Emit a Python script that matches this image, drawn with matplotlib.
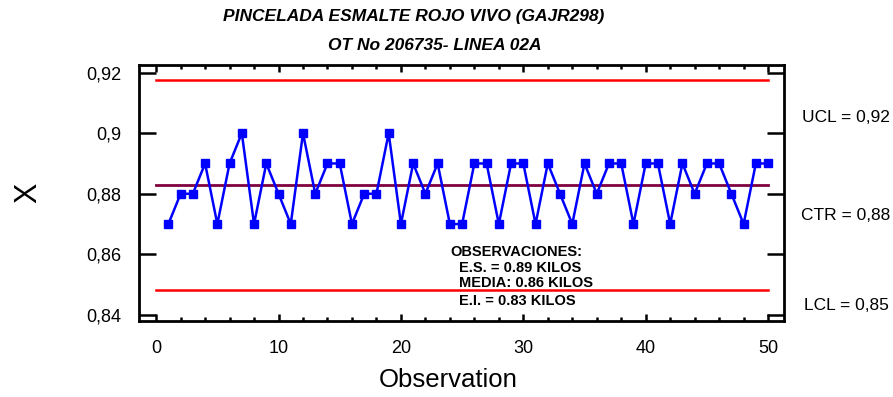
import matplotlib
matplotlib.use("Agg")
import matplotlib.pyplot as plt
from matplotlib.ticker import MultipleLocator, FixedLocator

plt.rcParams['font.family'] = ['Liberation Sans', 'DejaVu Sans']

# Data
observation = list(range(1, 51))
values = [0.87, 0.88, 0.88, 0.89, 0.87, 0.89, 0.90, 0.87, 0.89, 0.88,
          0.87, 0.90, 0.88, 0.89, 0.89, 0.87, 0.88, 0.88, 0.90, 0.87,
          0.89, 0.88, 0.89, 0.87, 0.87, 0.89, 0.89, 0.87, 0.89, 0.89,
          0.87, 0.89, 0.88, 0.87, 0.89, 0.88, 0.89, 0.89, 0.87, 0.89,
          0.89, 0.87, 0.89, 0.88, 0.89, 0.89, 0.88, 0.87, 0.89, 0.89]
ucl = 0.9174
ctr = 0.8828
lcl = 0.8482
limit_labels = ["UCL = 0,92", "CTR = 0,88", "LCL = 0,85"]
yticks = [0.84, 0.86, 0.88, 0.90, 0.92]
ytick_labels = ["0,84", "0,86", "0,88", "0,9", "0,92"]
xticks = [0, 10, 20, 30, 40, 50]
title1 = "PINCELADA ESMALTE ROJO VIVO (GAJR298)"
title2 = "OT No 206735- LINEA 02A"
notes = ["OBSERVACIONES:", "E.S. = 0.89 KILOS", "MEDIA: 0.86 KILOS", "E.I. = 0.83 KILOS"]

fig = plt.figure(figsize=(8.93, 3.97), dpi=100)
ax = fig.add_axes([139/893, 1 - 321/397, (784-139)/893, (321-65)/397])

xmin, xmax = observation[0] - 1, observation[-1]
ax.plot([xmin, xmax], [ucl, ucl], color='#ff0000', lw=1.8)
ax.plot([xmin, xmax], [lcl, lcl], color='#ff0000', lw=1.8)
ax.plot([xmin, xmax], [ctr, ctr], color='#800040', lw=2.0)
ax.plot(observation, values, color='#0000ff', lw=1.8, marker='s', ms=5.5,
        markerfacecolor='#0000ff', markeredgecolor='#0000ff')

ax.set_xlim(-1.4, 51.3)
ax.set_ylim(0.838, 0.9225)

ax.xaxis.set_major_locator(FixedLocator(xticks))
ax.xaxis.set_minor_locator(MultipleLocator(2))
ax.set_yticks(yticks)
ax.set_yticklabels(ytick_labels)
ax.tick_params(axis='x', which='major', direction='in', length=5, width=1.8,
               top=True, bottom=True, labelsize=13, pad=14)
ax.tick_params(axis='x', which='minor', direction='in', length=3, width=1.8,
               top=True, bottom=True)
ax.tick_params(axis='y', which='major', direction='in', length=12, width=1.8,
               left=True, right=True, labelsize=13, pad=13)
for s in ax.spines.values():
    s.set_linewidth(2)

for lab, yp in zip(limit_labels, [117, 215, 306]):
    fig.text(846/893, 1 - yp/397, lab, fontsize=12.5, ha='center', va='center')

for t, (xp, yp) in zip(notes, [(516, 252), (520, 268), (526, 283), (517, 301)]):
    fig.text(xp/893, 1 - yp/397, t, fontsize=10.5, fontweight='bold', ha='center', va='center')

fig.text(414/893, 1 - 17/397, title1, fontsize=12.5, fontweight='bold', fontstyle='italic',
         ha='center', va='center')
fig.text(435/893, 1 - 46/397, title2, fontsize=12.5, fontweight='bold', fontstyle='italic',
         ha='center', va='center')

fig.text(28/893, 1 - 193/397, "X", fontsize=22, ha='center', va='center', rotation=90)
fig.text(448/893, 1 - 380/397, "Observation", fontsize=18.5, ha='center', va='center')

fig.savefig("out.png", dpi=100)
